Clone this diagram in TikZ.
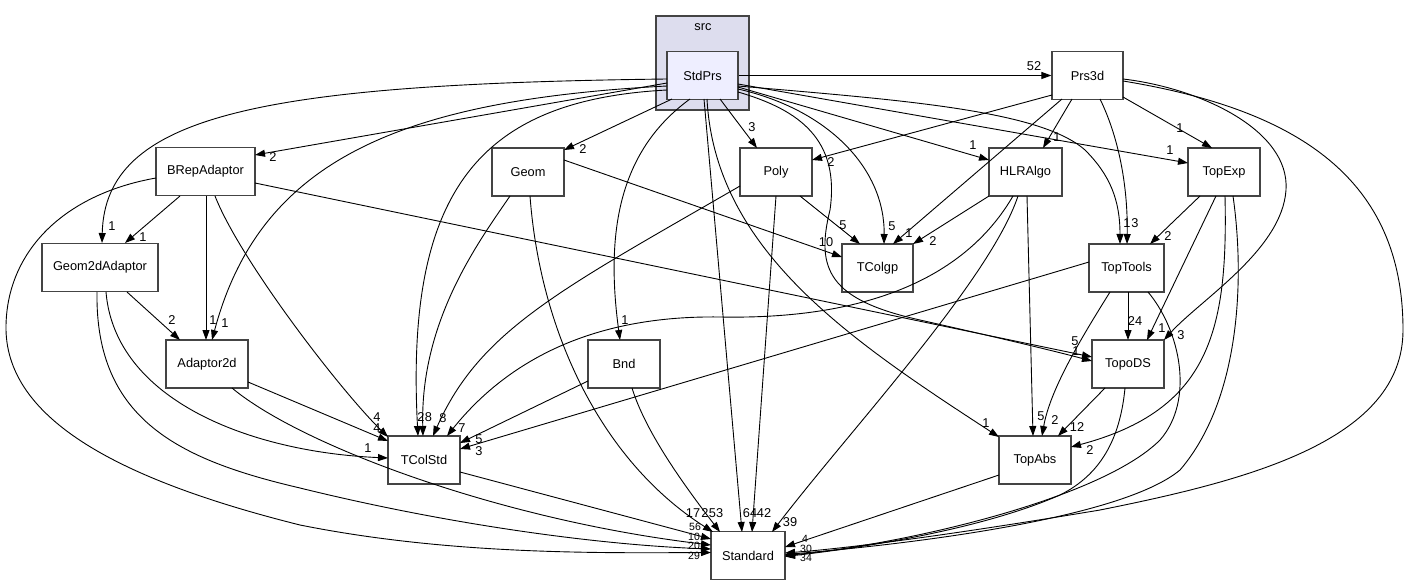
\documentclass[tikz,border=0pt]{standalone}
\usepackage{fontspec}
\setmainfont{Liberation Sans}
\usetikzlibrary{arrows.meta,calc}
\definecolor{clusterfill}{HTML}{DDDDEE}
\definecolor{mainfill}{HTML}{EEEEFF}
\definecolor{boxline}{HTML}{444444}
\begin{document}
\begin{tikzpicture}[x=1pt,y=-1pt,
  box/.style={draw=boxline, line width=1.1pt, fill=white, minimum height=48pt, inner sep=0pt, font=\fontsize{12.8}{14}\selectfont},
  dep/.style={draw=black, line width=0.9pt, -{Triangle[length=10pt,width=7pt]}},
  lbl/.style={inner sep=0pt, font=\fontsize{12.8}{14}\selectfont},
  slbl/.style={inner sep=0pt, font=\fontsize{10.5}{11}\selectfont}]
\useasboundingbox (0,0) rectangle (1410,585);
% cluster
\node[draw=boxline, line width=1.1pt, fill=clusterfill, minimum width=93pt, minimum height=94pt, inner sep=0pt] (src) at (702.5,63) {};
\node[lbl] (srclbl) at (703,27) {src};
% nodes
\node[box, fill=mainfill, minimum width=71pt] (StdPrs) at (702.5,75.5) {StdPrs};
\node[box, minimum width=71pt] (Prs3d) at (1087.5,75.5) {Prs3d};
\node[box, minimum width=99pt] (BRepAdaptor) at (205.5,171.5) {BRepAdaptor};
\node[box, minimum width=72pt] (Geom) at (528,172) {Geom};
\node[box, minimum width=72pt] (Poly) at (776,172) {Poly};
\node[box, minimum width=73pt] (HLRAlgo) at (1025.5,172) {HLRAlgo};
\node[box, minimum width=72pt] (TopExp) at (1224,172) {TopExp};
\node[box, minimum width=116pt] (Geom2dAdaptor) at (100,267.5) {Geom2dAdaptor};
\node[box, minimum width=71pt] (TColgp) at (877.5,268) {TColgp};
\node[box, minimum width=75pt] (TopTools) at (1126.5,268) {TopTools};
\node[box, minimum width=82pt] (Adaptor2d) at (207,364) {Adaptor2d};
\node[box, minimum width=72pt] (Bnd) at (624,364) {Bnd};
\node[box, minimum width=72pt] (TopoDS) at (1128,364) {TopoDS};
\node[box, minimum width=72pt] (TColStd) at (424,460) {TColStd};
\node[box, minimum width=72pt] (TopAbs) at (1035,460) {TopAbs};
\node[box, minimum width=74pt] (Standard) at (748,555.5) {Standard};
% StdPrs edges
\draw[dep] (StdPrs.east) -- (Prs3d.west);
\draw[dep] ($(StdPrs)+(-35.5,7.5)$) -- ($(BRepAdaptor)+(49.5,-16.5)$);
\draw[dep] ($(StdPrs)+(-35.5,3.5)$) .. controls (260,84) and (105,115) .. ($(Geom2dAdaptor)+(2,-24.5)$);
\draw[dep] ($(StdPrs)+(-35.5,10.5)$) .. controls (400,100) and (260,160) .. ($(Adaptor2d)+(5,-24)$);
\draw[dep] ($(StdPrs)+(-35.5,14.5)$) .. controls (480,100) and (405,190) .. ($(TColStd)+(-6,-24)$);
\draw[dep] ($(StdPrs)+(17.5,23.5)$) -- ($(Poly)+(-19,-24)$);
\draw[dep] ($(StdPrs)+(-30.5,23.5)$) -- ($(Geom)+(36,-22)$);
\draw[dep] ($(StdPrs)+(-12.5,23.5)$) .. controls (620,150) and (605,230) .. ($(Bnd)+(-4,-24)$);
\draw[dep] ($(StdPrs)+(1.5,23.5)$) -- ($(Standard)+(-6,-23.5)$);
\draw[dep] ($(StdPrs)+(4.5,23.5)$) .. controls (715,250) and (850,340) .. ($(TopAbs)+(-36,-23)$);
\draw[dep] ($(StdPrs)+(35.5,13.5)$) .. controls (830,110) and (885,170) .. ($(TColgp)+(6.5,-24)$);
\draw[dep] ($(StdPrs)+(35.5,16.5)$) .. controls (800,110) and (840,140) .. (830,210) .. controls (815,270) and (830,300) .. (920,320) .. controls (1000,338) and (1050,350) .. ($(TopoDS)+(-36,-3)$);
\draw[dep] ($(StdPrs)+(35.5,11.5)$) -- ($(HLRAlgo)+(-36.5,-12)$);
\draw[dep] ($(StdPrs)+(35.5,8.5)$) -- ($(TopExp)+(-36,-9)$);
\draw[dep] ($(StdPrs)+(35.5,10.5)$) .. controls (900,100) and (1040,110) .. (1085,150) .. controls (1110,175) and (1120,200) .. ($(TopTools)+(-6.5,-24)$);
% BRepAdaptor edges
\draw[dep] ($(BRepAdaptor)+(-25.5,24.5)$) -- ($(Geom2dAdaptor)+(25,-24.5)$);
\draw[dep] ($(BRepAdaptor)+(0.5,24.5)$) -- ($(Adaptor2d)+(-1,-24)$);
\draw[dep] ($(BRepAdaptor)+(9.5,24.5)$) .. controls (240,260) and (340,390) .. ($(TColStd)+(-36,-23)$);
\draw[dep] ($(BRepAdaptor)+(49.5,11.5)$) -- ($(TopoDS)+(-36,-7)$);
\draw[dep] ($(BRepAdaptor)+(-49.5,6.5)$) .. controls (60,195) and (5,255) .. (6,330) .. controls (8,420) and (120,480) .. (300,525) .. controls (450,555) and (600,553) .. ($(Standard)+(-37,-3)$);
% Geom2dAdaptor edges
\draw[dep] ($(Geom2dAdaptor)+(27,24.5)$) -- ($(Adaptor2d)+(-27,-24)$);
\draw[dep] ($(Geom2dAdaptor)+(6,24.5)$) .. controls (115,400) and (250,452) .. ($(TColStd)+(-36,-2)$);
\draw[dep] ($(Geom2dAdaptor)+(-3,24.5)$) .. controls (95,420) and (180,460) .. (300,488) .. controls (450,525) and (600,545) .. ($(Standard)+(-37,-6.5)$);
% Adaptor2d edges
\draw[dep] ($(Adaptor2d)+(41,18)$) -- ($(TColStd)+(-36,-19)$);
\draw[dep] ($(Adaptor2d)+(25,24)$) .. controls (300,445) and (500,520) .. ($(Standard)+(-37,-10.5)$);
% TColStd
\draw[dep] ($(TColStd)+(36,12)$) -- ($(Standard)+(-37,-16.5)$);
% Geom
\draw[dep] ($(Geom)+(36,-12)$) -- ($(TColgp)+(-35.5,-11)$);
\draw[dep] ($(Geom)+(-18,24)$) .. controls (480,240) and (420,320) .. ($(TColStd)+(-1,-24)$);
\draw[dep] ($(Geom)+(2,24)$) .. controls (540,330) and (600,460) .. ($(Standard)+(-35,-23.5)$);
% Poly
\draw[dep] ($(Poly)+(24,24)$) -- ($(TColgp)+(-17.5,-24)$);
\draw[dep] ($(Poly)+(-36,14)$) .. controls (560,290) and (480,330) .. ($(TColStd)+(9,-24)$);
\draw[dep] ($(Poly)+(0,24)$) -- ($(Standard)+(4,-23.5)$);
% Bnd
\draw[dep] ($(Bnd)+(-36,17)$) -- ($(TColStd)+(36,-17)$);
\draw[dep] ($(Bnd)+(8,24)$) .. controls (645,430) and (680,480) .. ($(Standard)+(-28,-23.5)$);
% HLRAlgo
\draw[dep] ($(HLRAlgo)+(-36.5,24)$) -- ($(TColgp)+(35.5,-24)$);
\draw[dep] ($(HLRAlgo)+(-12.5,24)$) .. controls (970,270) and (880,320) .. (720,317) .. controls (580,315) and (500,370) .. ($(TColStd)+(23,-24)$);
\draw[dep] ($(HLRAlgo)+(-7.5,24)$) .. controls (990,280) and (850,430) .. ($(Standard)+(24,-23.5)$);
\draw[dep] ($(HLRAlgo)+(1.5,24)$) -- ($(TopAbs)+(-2,-24)$);
% Prs3d
\draw[dep] ($(Prs3d)+(-35.5,19.5)$) -- ($(Poly)+(36,-12)$);
\draw[dep] ($(Prs3d)+(-25.5,23.5)$) -- ($(TColgp)+(15.5,-24)$);
\draw[dep] ($(Prs3d)+(-15.5,23.5)$) -- ($(HLRAlgo)+(17.5,-24)$);
\draw[dep] ($(Prs3d)+(12.5,23.5)$) .. controls (1120,140) and (1128,190) .. ($(TopTools)+(0.5,-24)$);
\draw[dep] ($(Prs3d)+(35.5,21.5)$) -- ($(TopExp)+(-12,-24)$);
\draw[dep] ($(Prs3d)+(35.5,3.5)$) .. controls (1200,88) and (1290,130) .. (1286,190) .. controls (1282,250) and (1200,300) .. ($(TopoDS)+(36,-24)$);
\draw[dep] ($(Prs3d)+(35.5,5.5)$) .. controls (1300,110) and (1403,180) .. (1403,330) .. controls (1403,440) and (1250,480) .. (1100,510) .. controls (950,535) and (850,548) .. ($(Standard)+(37,-2.5)$);
% TopExp
\draw[dep] ($(TopExp)+(-24,24)$) -- ($(TopTools)+(23.5,-24)$);
\draw[dep] ($(TopExp)+(-8,24)$) -- ($(TopoDS)+(19,-24)$);
\draw[dep] ($(TopExp)+(1,24)$) .. controls (1228,330) and (1210,410) .. ($(TopAbs)+(36,-13)$);
\draw[dep] ($(TopExp)+(9,24)$) .. controls (1245,280) and (1240,400) .. (1180,470) .. controls (1120,520) and (900,545) .. ($(Standard)+(37,-1)$);
% TopTools
\draw[dep] ($(TopTools)+(1.5,24)$) -- ($(TopoDS)+(0,-24)$);
\draw[dep] ($(TopTools)+(-16.5,24)$) .. controls (1080,340) and (1050,390) .. ($(TopAbs)+(7,-24)$);
\draw[dep] ($(TopTools)+(-37.5,-6)$) -- ($(TColStd)+(36,-11)$);
\draw[dep] ($(TopTools)+(21.5,24)$) .. controls (1180,330) and (1195,400) .. (1160,440) .. controls (1100,500) and (900,545) .. ($(Standard)+(37,0)$);
% TopoDS
\draw[dep] ($(TopoDS)+(-23,24)$) -- ($(TopAbs)+(23,-24)$);
\draw[dep] ($(TopoDS)+(-3,24)$) .. controls (1120,440) and (1100,475) .. (1060,495) .. controls (980,530) and (860,548) .. ($(Standard)+(37,1)$);
% TopAbs
\draw[dep] ($(TopAbs)+(-36,15)$) -- ($(Standard)+(37,-8.5)$);
% labels
\node[lbl] (l1) at (1034,66) {52};
\node[lbl] (l2) at (273,157) {2};
\node[lbl] (l3) at (112,226) {1};
\node[lbl] (l4) at (225,323) {1};
\node[lbl] (l5) at (421,417) {2};
\node[lbl] (l6) at (428.5,417) {8};
\node[lbl] (l7) at (443,418) {8};
\node[lbl] (l8) at (462,428) {7};
\node[lbl] (l9) at (143,237) {1};
\node[lbl] (l10) at (213,320) {1};
\node[lbl] (l11) at (377,417) {4};
\node[lbl] (l12) at (377,428) {4};
\node[lbl] (l13) at (368,448) {1};
\node[lbl] (l14) at (172,320) {2};
\node[lbl] (l15) at (479,439) {5};
\node[lbl] (l16) at (479,451) {3};
\node[lbl] (l17) at (826,242) {10};
\node[lbl] (l18) at (843,225) {5};
\node[lbl] (l19) at (892,226) {5};
\node[lbl] (l20) at (909,233) {1};
\node[lbl] (l21) at (933,241) {2};
\node[lbl] (l22) at (831,162) {2};
\node[lbl] (l23) at (752,127) {3};
\node[lbl] (l24) at (583,149) {2};
\node[lbl] (l25) at (625,320) {1};
\node[lbl] (l26) at (986,423) {1};
\node[lbl] (l27) at (973,145) {1};
\node[lbl] (l28) at (1057,137) {1};
\node[lbl] (l29) at (1170,150) {1};
\node[lbl] (l30) at (1180,128) {1};
\node[lbl] (l31) at (1127,223) {1};
\node[lbl] (l32) at (1135,223) {3};
\node[lbl] (l33) at (1181,335) {3};
\node[lbl] (l34) at (1168,236) {2};
\node[lbl] (l35) at (1162,328) {1};
\node[lbl] (l36) at (1135,321) {24};
\node[lbl] (l37) at (1075,341) {5};
\node[lbl] (l38) at (1076,351) {1};
\node[lbl] (l39) at (1090,450) {2};
\node[lbl] (l40) at (1055,420) {2};
\node[lbl] (l41) at (1041,416) {5};
\node[lbl] (l42) at (1077,427) {12};
\node[lbl] (l43) at (790,522) {39};
\node[slbl] (l44) at (805,539) {4};
\node[lbl] (l45) at (693,513) {17};
\node[lbl] (l46) at (705,513) {2};
\node[lbl] (l47) at (716,513) {53};
\node[lbl] (l48) at (750,513) {64};
\node[lbl] (l49) at (764,513) {42};
\node[slbl] (l50) at (695,527) {56};
\node[slbl] (l51) at (694,536.5) {10};
\node[slbl] (l52) at (694,546) {20};
\node[slbl] (l53) at (694,555.5) {29};
\node[slbl] (l54) at (806,548.5) {30};
\node[slbl] (l55) at (806,558) {34};
\end{tikzpicture}
\end{document}
